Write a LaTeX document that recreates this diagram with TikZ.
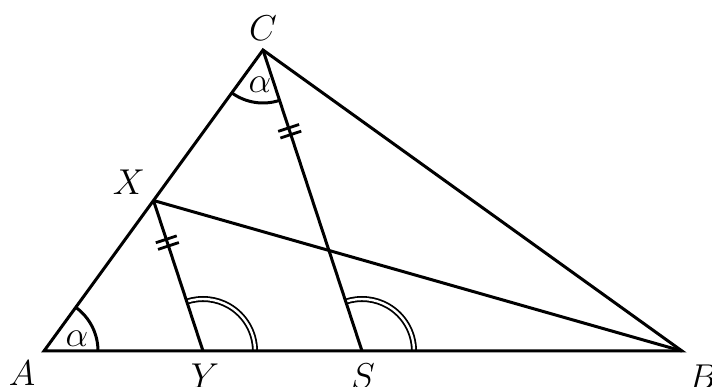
\documentclass[tikz,border=0pt]{standalone}
\usetikzlibrary{calc,decorations.markings}
\begin{document}
\begin{tikzpicture}[x=1pt,y=1pt,
  edge/.style={line width=3pt},
  lbl/.style={font=\LARGE,scale=2.08},
  anglearc/.style={line width=3pt},
  dblarc/.style={line width=1.8pt,double,double distance=2.4pt},
  ticks/.style={postaction={decorate,decoration={markings,mark=at position #1 with {
     \draw[line width=2.8pt] (-3.5pt,-11pt) -- (-3.5pt,11pt);
     \draw[line width=2.8pt] (3.5pt,-11pt) -- (3.5pt,11pt);}}}}
]
\useasboundingbox (0,0) rectangle (712,387);
\coordinate (A) at (44,36);
\coordinate (B) at (682,36);
\coordinate (C) at (263,337);
\coordinate (S) at (362,36);
\coordinate (X) at ($(A)!0.5!(C)$);
\coordinate (Y) at ($(A)!0.5!(S)$);
% angle arcs
\draw[anglearc] ($(A)+(54,0)$) arc[start angle=0,end angle=53.96,radius=54];
\draw[anglearc] ($(C)+(233.96:53)$) arc[start angle=233.96,end angle=288.2,radius=53];
\draw[dblarc] ($(Y)+(52,0)$) arc[start angle=0,end angle=108.2,radius=52];
\draw[dblarc] ($(S)+(52,0)$) arc[start angle=0,end angle=108.2,radius=52];
% triangle and segments
\draw[edge] (A) -- (B) -- (C) -- cycle;
\draw[edge] (X) -- (B);
\draw[edge,ticks=0.28] (X) -- (Y);
\draw[edge,ticks=0.27] (C) -- (S);
% labels
\node[lbl] (lC) at (263,359) {$C$};
\node[lbl] (lX) at (129,205) {$X$};
\node[lbl] (lA) at (22,14) {$A$};
\node[lbl] (lY) at (205,11) {$Y$};
\node[lbl] (lS) at (363,11) {$S$};
\node[lbl] (lB) at (703,10) {$B$};
\node[lbl] (aA) at (77,48) {$\alpha$};
\node[lbl] (aC) at (260,302) {$\alpha$};
\end{tikzpicture}
\end{document}
